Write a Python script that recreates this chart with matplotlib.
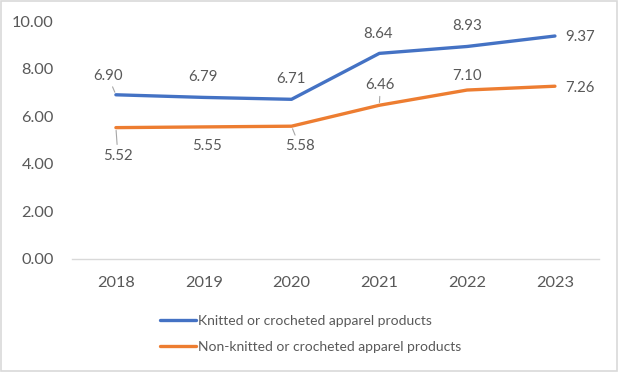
import matplotlib
matplotlib.use('Agg')
import matplotlib.pyplot as plt
from matplotlib.patches import Rectangle

# data
years = ['2018', '2019', '2020', '2021', '2022', '2023']
knitted = [6.90, 6.79, 6.71, 8.64, 8.93, 9.37]
non_knitted = [5.52, 5.55, 5.58, 6.46, 7.10, 7.26]
series_names = ['Knitted or crocheted apparel products',
                'Non-knitted or crocheted apparel products']

# label offsets in pixels (dx, dy) and whether a leader line is drawn
knit_offsets = [(-8, 19), (-1, 20), (-1, 20), (-1, 19), (0, 20), (25, -1)]
knit_leader = [True, False, False, False, False, False]
non_offsets = [(2, -28), (3, -19), (8, -20), (1, 20), (0, 14), (25, -2)]
non_leader = [True, False, True, True, False, False]

blue = '#4472C4'
orange = '#ED7D31'
txt = '#595959'

plt.rcParams['font.family'] = ['Lato', 'DejaVu Sans']

fig = plt.figure(figsize=(6.18, 3.72), dpi=100)
ax = fig.add_axes([0.1165, 0.3038, 0.8525, 0.6397])

x = list(range(len(years)))
ax.plot(x, knitted, color=blue, lw=2.4, solid_capstyle='round', label=series_names[0])
ax.plot(x, non_knitted, color=orange, lw=2.4, solid_capstyle='round', label=series_names[1])

def add_labels(vals, offsets, leaders):
    for i, v in enumerate(vals):
        dx, dy = offsets[i]
        kw = {}
        if leaders[i]:
            kw['arrowprops'] = dict(arrowstyle='-', color='#A6A6A6', lw=0.8,
                                    shrinkA=1, shrinkB=2)
        ax.annotate('%.2f' % v, (x[i], v), xytext=(dx, dy),
                    textcoords='offset pixels', ha='center', va='center',
                    fontsize=10.8, color=txt, **kw)

add_labels(knitted, knit_offsets, knit_leader)
add_labels(non_knitted, non_offsets, non_leader)

ax.set_xlim(-0.5, len(years) - 0.5)
ax.set_ylim(0, 10)
ax.set_yticks([0, 2, 4, 6, 8, 10])
ax.set_yticklabels(['%.2f' % t for t in [0, 2, 4, 6, 8, 10]])
ax.set_xticks(x)
ax.set_xticklabels(years)
ax.tick_params(axis='both', length=0, labelsize=11.8, colors=txt)
ax.tick_params(axis='y', pad=13)
ax.tick_params(axis='x', pad=12)
for s in ['top', 'right', 'left']:
    ax.spines[s].set_visible(False)
ax.spines['bottom'].set_color('#D9D9D9')
ax.spines['bottom'].set_linewidth(1)

leg = fig.legend(loc='center', bbox_to_anchor=(311 / 618, 1 - 334 / 372),
                 ncol=1, frameon=False, fontsize=10, handlelength=2.6,
                 handletextpad=0.15, labelspacing=1.0)
for t in leg.get_texts():
    t.set_color(txt)

fig.patches.append(Rectangle((0.0015, 0.0025), 0.997, 0.995, transform=fig.transFigure,
                             fill=False, edgecolor='#D9D9D9', lw=1.2))

fig.savefig('out.png', dpi=100)
